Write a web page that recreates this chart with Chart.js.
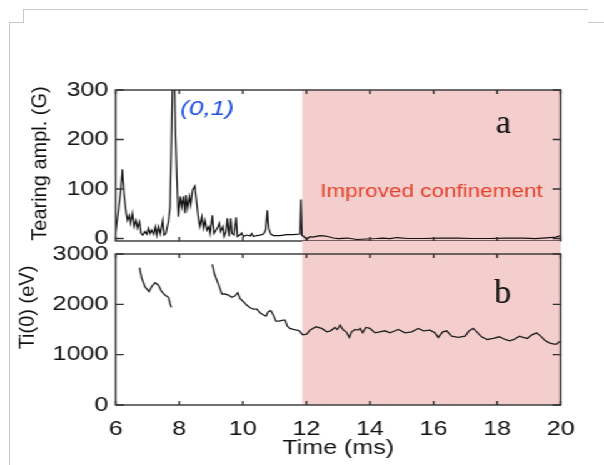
<!DOCTYPE html>
<html>
<head>
<meta charset="utf-8">
<script src="https://cdn.jsdelivr.net/npm/chart.js@4.4.0/dist/chart.umd.min.js"></script>
<style>
body{margin:0;background:#fff;width:604px;height:465px;overflow:hidden;position:relative}
.fr{position:absolute;background:#c8c8c8}
#wrap{position:absolute;left:0;top:0;width:483px;height:465px;transform-origin:0 0}
#wrap canvas{position:absolute;left:0;top:0}
</style>
</head>
<body>
<div class="fr" style="left:23px;top:9px;width:565px;height:1px"></div>
<div class="fr" style="left:23px;top:9px;width:1px;height:14px"></div>
<div class="fr" style="left:9px;top:22px;width:14px;height:1px"></div>
<div class="fr" style="left:9px;top:22px;width:1px;height:443px"></div>
<div class="fr" style="left:588px;top:22px;width:16px;height:1px"></div>
<div id="wrap">
  <canvas id="tearing" width="483" height="465"></canvas>
  <canvas id="ti" width="483" height="465"></canvas>
</div>
<script>
// time axis (ms)
var timeTicks = [6, 8, 10, 12, 14, 16, 18, 20];
var tearTicks = [0, 100, 200, 300];
var tiTicks = [0, 1000, 2000, 3000];
var confStart = 11.87, confEnd = 20;

// panel a : tearing amplitude (G)
var tearT = [6.00,6.09,6.16,6.21,6.26,6.33,6.37,6.43,6.47,6.53,6.58,6.64,6.69,6.75,6.80,6.85,6.92,6.98,7.03,7.08,
  7.13,7.19,7.25,7.29,7.34,7.40,7.48,7.52,7.58,7.66,7.71,7.75,7.79,7.84,7.88,7.92,7.97,8.03,8.08,8.13,
  8.18,8.21,8.26,8.32,8.36,8.42,8.49,8.55,8.61,8.65,8.71,8.76,8.81,8.87,8.93,8.97,9.04,9.09,9.16,9.22,
  9.26,9.30,9.37,9.41,9.47,9.51,9.57,9.62,9.66,9.72,9.79,9.83,9.91,9.96,10.02,10.12,10.23,10.28,10.33,10.44,
  10.54,10.65,10.72,10.77,10.81,10.88,10.96,11.17,11.38,11.59,11.80,11.83,11.86,11.92,12.01,12.11,12.20,12.43,12.60,12.85,
  13.00,13.30,13.58,13.90,14.21,14.40,14.63,14.84,15.20,15.68,16.20,16.73,17.20,17.77,18.30,18.82,19.20,19.66,19.85,20.00];
var tearAmp = [14,58,98,140,91,51,37,47,31,51,24,37,21,34,10,7,14,9,21,10,
  17,9,24,7,24,9,37,7,10,34,64,185,330,340,219,132,44,85,64,85,
  51,88,61,85,68,98,106,71,37,24,44,21,37,17,24,10,47,10,17,24,
  31,14,24,4,14,41,4,41,10,7,43,4,7,11,4,7,5,10,4,6,
  7,9,17,57,21,9,6,6,8,8,9,79,6,4,-2,4,3,6,5,1,
  0,1,-2,-1,0,1,0,2,0,0,1,1,0,0,1,1,0,2,3,6];

// panel b : Ti(0) (eV), null = no data
var tiT = [6.75,6.82,6.92,7.05,7.13,7.24,7.34,7.45,7.55,7.66,7.71,7.75,8.40,
  9.04,9.10,9.18,9.26,9.34,9.44,9.55,9.65,9.75,9.84,9.91,10.02,10.12,10.23,10.33,10.44,10.54,10.65,10.73,10.80,10.88,10.96,
  11.04,11.15,11.26,11.33,11.40,11.48,11.59,11.70,11.78,11.88,12.01,12.11,12.30,12.48,12.64,12.76,12.90,12.97,13.06,13.16,
  13.25,13.35,13.42,13.53,13.63,13.69,13.77,13.87,14.00,14.16,14.31,14.47,14.63,14.89,15.10,15.31,15.52,15.68,15.89,16.04,
  16.15,16.29,16.41,16.57,16.78,16.99,17.12,17.25,17.36,17.51,17.69,17.88,18.07,18.25,18.40,18.53,18.70,18.82,18.95,19.08,
  19.24,19.37,19.50,19.64,19.79,19.87,19.95,20.00];
var tiVal = [2729,2518,2351,2251,2351,2430,2384,2251,2185,2139,2019,1940,null,
  2796,2617,2484,2351,2205,2205,2185,2139,2165,2231,2119,2052,1986,1932,1906,1906,1833,1787,1767,1853,1873,1787,
  1667,1667,1687,1687,1568,1521,1501,1488,1474,1394,1408,1488,1554,1521,1454,1474,1541,1501,1587,1488,
  1454,1342,1454,1501,1488,1521,1434,1541,1521,1434,1454,1474,1434,1501,1434,1454,1521,1474,1488,1434,
  1342,1454,1474,1368,1342,1368,1474,1521,1454,1355,1302,1322,1355,1302,1275,1302,1368,1342,1322,1388,
  1434,1368,1288,1235,1209,1209,1255,1260];

var SX = 604 / 483;   // page is drawn narrow then stretched
document.getElementById('wrap').style.transform = 'scaleX(' + SX + ')';

var sansTick = {family: '"Liberation Sans", Arial, sans-serif', size: 20};

function pts(xs, ys) {
    return xs.map(function (t, i) { return {x: t, y: ys[i]}; });
}
function plain(v) { return String(v); }

/* frame, inward ticks, shading and labels */
function decor(o) {
    return {
        id: 'decor',
        beforeDatasetsDraw: function (chart) {
            var ctx = chart.ctx, ca = chart.chartArea, xs = chart.scales.x;
            var x0 = xs.getPixelForValue(confStart), x1 = xs.getPixelForValue(confEnd);
            ctx.save();
            ctx.fillStyle = '#f4cdcd';
            ctx.fillRect(x0, ca.top - o.shadeUp, x1 - x0, ca.bottom - ca.top + o.shadeUp);
            ctx.restore();
        },
        afterDatasetsDraw: function (chart) {
            var ctx = chart.ctx, ca = chart.chartArea, xs = chart.scales.x, ys = chart.scales.y;
            ctx.save();
            ctx.strokeStyle = '#333';
            ctx.lineWidth = 1.4;
            ctx.strokeRect(ca.left, ca.top, ca.right - ca.left, ca.bottom - ca.top);
            ctx.beginPath();
            xs.ticks.forEach(function (t) {
                var px = xs.getPixelForValue(t.value);
                ctx.moveTo(px, ca.top); ctx.lineTo(px, ca.top + 4);
                ctx.moveTo(px, ca.bottom); ctx.lineTo(px, ca.bottom - 4);
            });
            ys.ticks.forEach(function (t) {
                var py = ys.getPixelForValue(t.value);
                ctx.moveTo(ca.left, py); ctx.lineTo(ca.left + 6.5, py);
                ctx.moveTo(ca.right, py); ctx.lineTo(ca.right - 6.5, py);
            });
            ctx.stroke();

            // stretched texts
            (o.texts || []).forEach(function (tx) {
                ctx.font = tx.font;
                ctx.fillStyle = tx.color;
                ctx.textAlign = 'left';
                ctx.textBaseline = 'alphabetic';
                ctx.fillText(tx.text, xs.getPixelForValue(tx.x), ys.getPixelForValue(tx.y));
            });

            // panel letter, not stretched
            ctx.save();
            ctx.scale(1 / SX, 1);
            ctx.font = '34px "Liberation Serif", "Times New Roman", serif';
            ctx.fillStyle = '#111';
            ctx.textAlign = 'center';
            ctx.textBaseline = 'alphabetic';
            ctx.fillText(o.letter.text, xs.getPixelForValue(o.letter.x) * SX, ys.getPixelForValue(o.letter.y));

            // y title, rotated
            ctx.translate(o.ytitle.px, (ca.top + ca.bottom) / 2 + o.ytitle.dy);
            ctx.rotate(-Math.PI / 2);
            ctx.font = '20px "Liberation Sans", Arial, sans-serif';
            ctx.textBaseline = 'middle';
            ctx.fillText(o.ytitle.text, 0, 0);
            ctx.restore();
            ctx.restore();
        }
    };
}

function setTicks(list) {
    return function (s) { s.ticks = list.map(function (v) { return {value: v}; }); };
}

/* panel a */
var ctxTear = document.getElementById('tearing');
var tearChart = new Chart(ctxTear, {
    type: 'line',
    data: {
        datasets: [{
            data: pts(tearT, tearAmp),
            borderColor: '#111',
            borderWidth: 1.2,
            pointRadius: 0,
            tension: 0
        }]
    },
    options: {
        responsive: false,
        animation: false,
        layout: {padding: {top: 90, right: 34.6, bottom: 224, left: 0}},
        plugins: {legend: {display: false}, tooltip: {enabled: false}},
        scales: {
            x: {
                type: 'linear', min: 6, max: 20,
                ticks: {display: false},
                grid: {display: false, drawTicks: false},
                border: {display: false},
                afterBuildTicks: setTicks(timeTicks),
                afterFit: function (s) { s.height = 0; }
            },
            y: {
                min: -5, max: 300,
                ticks: {font: sansTick, color: '#111', padding: 6, callback: plain},
                grid: {display: false, drawTicks: false},
                border: {display: false},
                afterBuildTicks: setTicks(tearTicks),
                afterFit: function (s) { s.width = 92.5; }
            }
        }
    },
    plugins: [decor({
        shadeUp: 0,
        letter: {text: 'a', x: 18.2, y: 213},
        ytitle: {text: 'Tearing ampl. (G)', px: 41, dy: -2},
        texts: [
            {text: '(0,1)', x: 8.03, y: 250, color: '#1f4fe3', font: 'italic 21px "Liberation Sans", Arial, sans-serif'},
            {text: 'Improved confinement', x: 12.43, y: 84, color: '#e3432b', font: '18px "Liberation Sans", Arial, sans-serif'}
        ]
    })]
});

/* panel b */
var ctxTi = document.getElementById('ti');
var tiChart = new Chart(ctxTi, {
    type: 'line',
    data: {
        datasets: [{
            data: pts(tiT, tiVal),
            borderColor: '#222',
            borderWidth: 1.3,
            pointRadius: 0,
            tension: 0,
            spanGaps: false
        }]
    },
    options: {
        responsive: false,
        animation: false,
        layout: {padding: {top: 254, right: 34.6, bottom: 0, left: 0}},
        plugins: {legend: {display: false}, tooltip: {enabled: false}},
        scales: {
            x: {
                type: 'linear', min: 6, max: 20,
                ticks: {font: sansTick, color: '#111', padding: 12, maxRotation: 0, callback: plain},
                grid: {display: false, drawTicks: false},
                border: {display: false},
                title: {display: true, text: 'Time (ms)', color: '#111',
                    font: {family: '"Liberation Sans", Arial, sans-serif', size: 20},
                    padding: {top: 0, bottom: 5}},
                afterBuildTicks: setTicks(timeTicks),
                afterFit: function (s) { s.height = 60; }
            },
            y: {
                min: 0, max: 3000,
                ticks: {font: sansTick, color: '#111', padding: 6, callback: plain},
                grid: {display: false, drawTicks: false},
                border: {display: false},
                afterBuildTicks: setTicks(tiTicks),
                afterFit: function (s) { s.width = 92.5; }
            }
        }
    },
    plugins: [decor({
        shadeUp: 13,
        letter: {text: 'b', x: 18.18, y: 2032},
        ytitle: {text: 'Ti(0) (eV)', px: 28, dy: -22},
        texts: []
    })]
});
</script>
</body>
</html>
